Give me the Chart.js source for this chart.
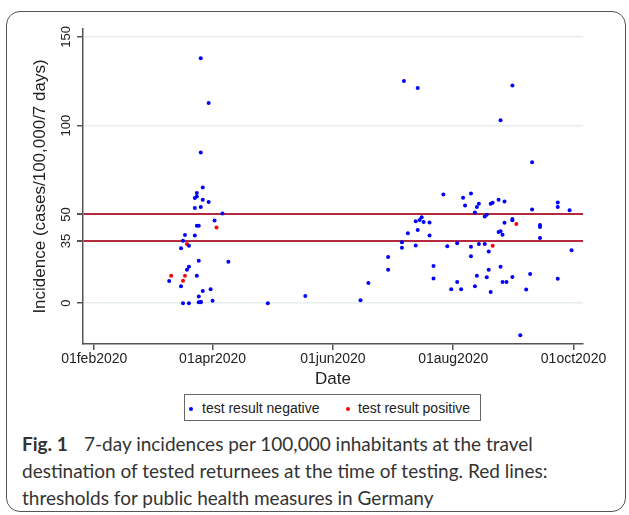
<!DOCTYPE html>
<html>
<head>
<meta charset="utf-8">
<script src="https://cdn.jsdelivr.net/npm/chart.js@4/dist/chart.umd.min.js"></script>
<style>
  body { margin: 0; background: #fff; width: 629px; height: 515px; overflow: hidden; position: relative; }
  #frame { position: absolute; left: 6px; top: 11px; width: 620px; height: 501px; border: 1.5px solid #555; border-radius: 14px; box-sizing: border-box; }
  #chart { position: absolute; left: 0; top: 0; }
  #legend { position: absolute; left: 184px; top: 394px; width: 297px; height: 27px; border: 1px solid #666; box-sizing: border-box;
            font: 14px "Liberation Sans", Arial, sans-serif; color: #222; }
  #legend .dot { position: absolute; top: 12px; width: 4px; height: 4px; border-radius: 50%; }
  #legend .txt { position: absolute; top: 5px; white-space: nowrap; }
  #caption { position: absolute; left: 22px; top: 430px; font: 19px Lato, sans-serif; line-height: 27px; color: #333; white-space: nowrap; }
  #caption b { display: inline-block; width: 62px; }
</style>
</head>
<body>
<div id="frame"></div>
<canvas id="chart" width="629" height="394"></canvas>
<div id="legend">
  <span class="dot" style="left:4px;background:#0000ff"></span><span class="txt" style="left:17px">test result negative</span>
  <span class="dot" style="left:161px;background:#ff0000"></span><span class="txt" style="left:173px">test result positive</span>
</div>
<div id="caption"><b>Fig. 1</b>7-day incidences per 100,000 inhabitants at the travel<br>destination of tested returnees at the time of testing. Red lines:<br>thresholds for public health measures in Germany</div>
<script>
// test date and incidence at destination
const negDates = [
  '2020-03-26','2020-03-30','2020-03-26','2020-03-27','2020-03-24','2020-03-24','2020-03-23','2020-03-27',
  '2020-03-30','2020-03-23','2020-03-26','2020-04-06','2020-04-02','2020-03-24','2020-03-25','2020-03-18',
  '2020-03-23','2020-03-17','2020-03-20','2020-03-16','2020-03-25','2020-04-09','2020-03-20','2020-03-19',
  '2020-03-24','2020-03-10','2020-03-16','2020-03-31','2020-03-27','2020-03-25','2020-04-01','2020-03-25',
  '2020-03-26','2020-03-26','2020-03-17','2020-03-20','2020-04-29','2020-05-18','2020-06-15','2020-06-19',
  '2020-06-29','2020-06-29','2020-07-06','2020-07-06','2020-07-09','2020-07-13','2020-07-14','2020-07-16',
  '2020-07-15','2020-07-13','2020-07-17','2020-07-20','2020-07-20','2020-07-22','2020-07-22','2020-07-07',
  '2020-07-14','2020-07-27','2020-07-29','2020-07-31','2020-08-03','2020-08-03','2020-08-05','2020-08-06',
  '2020-08-07','2020-08-10','2020-08-10','2020-08-10','2020-08-12','2020-08-13','2020-08-14','2020-08-12',
  '2020-08-13','2020-08-14','2020-08-17','2020-08-17','2020-08-18','2020-08-18','2020-08-19','2020-08-19',
  '2020-08-20','2020-08-21','2020-08-20','2020-08-24','2020-08-24','2020-08-25','2020-08-26','2020-08-25',
  '2020-08-25','2020-08-27','2020-08-27','2020-08-26','2020-08-28','2020-08-31','2020-08-31','2020-08-31',
  '2020-08-31','2020-09-04','2020-09-07','2020-09-09','2020-09-10','2020-09-10','2020-09-14','2020-09-14',
  '2020-09-14','2020-09-23','2020-09-23','2020-09-23','2020-09-29','2020-09-30'
];
const negValues = [
  138.0, 112.8, 84.9, 65.2, 62.1, 60.1, 59.2, 58.3,
  57.0, 53.6, 54.2, 50.6, 46.6, 43.7, 43.6, 38.4,
  38.2, 35.2, 32.3, 30.9, 23.9, 23.3, 20.6, 18.8,
  15.4, 12.5, 9.6, 7.8, 6.8, 3.7, 1.4, 0.5,
  0.5, 0.8, 0, 0, 0, 4.1, 1.7, 11.4,
  18.8, 26.0, 34.3, 31.2, 39.4, 32.5, 41.3, 48.4,
  46.9, 46.2, 45.7, 45.5, 38.1, 20.9, 13.9, 125.2,
  121.3, 61.3, 32.1, 7.8, 33.8, 12.0, 7.8, 59.4,
  55.0, 61.8, 31.8, 26.4, 51.1, 54.2, 56.0, 9.6,
  15.4, 33.3, 33.3, 48.8, 49.9, 14.6, 29.1, 18.9,
  56.0, 56.6, 6.3, 58.3, 40.1, 40.6, 38.5, 103.1,
  20.6, 57.3, 45.3, 11.9, 11.9, 122.6, 47.5, 46.7,
  14.7, -18.0, 7.7, 16.5, 79.4, 52.8, 44.0, 42.9,
  36.7, 56.7, 54.2, 13.7, 52.3, 29.8
];
const posDates = ['2020-04-03','2020-03-19','2020-03-11','2020-03-18','2020-03-17','2020-08-21','2020-09-02'];
const posValues = [42.6, 33.4, 15.4, 15.4, 12.6, 32.4, 44.6];

const xTickDates = ['2020-02-01','2020-04-01','2020-06-01','2020-08-01','2020-10-01'];
const xTickLabels = ['01feb2020','01apr2020','01jun2020','01aug2020','01oct2020'];
const yTickValues = [0, 35, 50, 100, 150];
const thresholds = [35, 50];

function dayNum(s) {
  const p = s.split('-');
  return Date.UTC(+p[0], +p[1] - 1, +p[2]) / 864e5;
}
function toPoints(dates, values) {
  return dates.map((d, i) => ({ x: dayNum(d), y: values[i] }));
}

const FONT = '"Liberation Sans", Arial, sans-serif';
const AXIS = '#555';

// y tick labels are rotated in the original, chart.js won't do that for y axes
const rotatedYLabels = {
  id: 'rotatedYLabels',
  afterDraw(chart) {
    const ctx = chart.ctx;
    const y = chart.scales.y;
    ctx.save();
    ctx.font = '13px ' + FONT;
    ctx.fillStyle = '#222';
    ctx.textAlign = 'center';
    ctx.textBaseline = 'middle';
    yTickValues.forEach(v => {
      ctx.save();
      ctx.translate(66, y.getPixelForValue(v));
      ctx.rotate(-Math.PI / 2);
      ctx.fillText(String(v), 0, 0);
      ctx.restore();
    });
    ctx.restore();
  }
};

new Chart(document.getElementById('chart'), {
  type: 'scatter',
  data: {
    datasets: [
      { label: 'test result negative', data: toPoints(negDates, negValues),
        backgroundColor: '#0000ff', borderWidth: 0, pointRadius: 2 },
      { label: 'test result positive', data: toPoints(posDates, posValues),
        backgroundColor: '#ff0000', borderWidth: 0, pointRadius: 2 }
    ]
  },
  options: {
    responsive: false,
    animation: false,
    devicePixelRatio: 1,
    layout: { padding: { left: 0, top: 29, right: 46, bottom: 0 } },
    plugins: { legend: { display: false }, tooltip: { enabled: false } },
    scales: {
      x: {
        type: 'linear',
        min: dayNum('2020-02-01') - 5.7,
        max: dayNum('2020-02-01') + 247.8,
        afterBuildTicks: s => { s.ticks = xTickDates.map(d => ({ value: dayNum(d) })); },
        afterFit: s => { s.height = 50; },
        ticks: {
          padding: 1,
          font: { size: 14, family: FONT },
          color: '#222',
          maxRotation: 0,
          callback: (v, i) => xTickLabels[i]
        },
        grid: { drawOnChartArea: false, drawTicks: true, tickLength: 6, tickColor: AXIS, lineWidth: 1.5 },
        border: { display: true, color: AXIS, width: 1.5 },
        title: { display: true, text: 'Date', color: '#222',
                 font: { size: 17, family: FONT }, padding: { top: 0, bottom: 4 } }
      },
      y: {
        min: -23,
        max: 154.5,
        afterBuildTicks: s => { s.ticks = yTickValues.map(v => ({ value: v })); },
        afterFit: s => { s.width = 83; },
        ticks: { display: false },
        grid: {
          color: c => thresholds.includes(c.tick.value) ? '#b3293d' : '#e6eef0',
          lineWidth: c => thresholds.includes(c.tick.value) ? 2 : 1.5,
          drawTicks: true, tickLength: 6, tickColor: AXIS
        },
        border: { display: true, color: AXIS, width: 1.5 },
        title: { display: true, text: 'Incidence (cases/100,000/7 days)', color: '#222',
                 font: { size: 17, family: FONT }, padding: { top: 30, bottom: 0 } }
      }
    }
  },
  plugins: [rotatedYLabels]
});
</script>
</body>
</html>
